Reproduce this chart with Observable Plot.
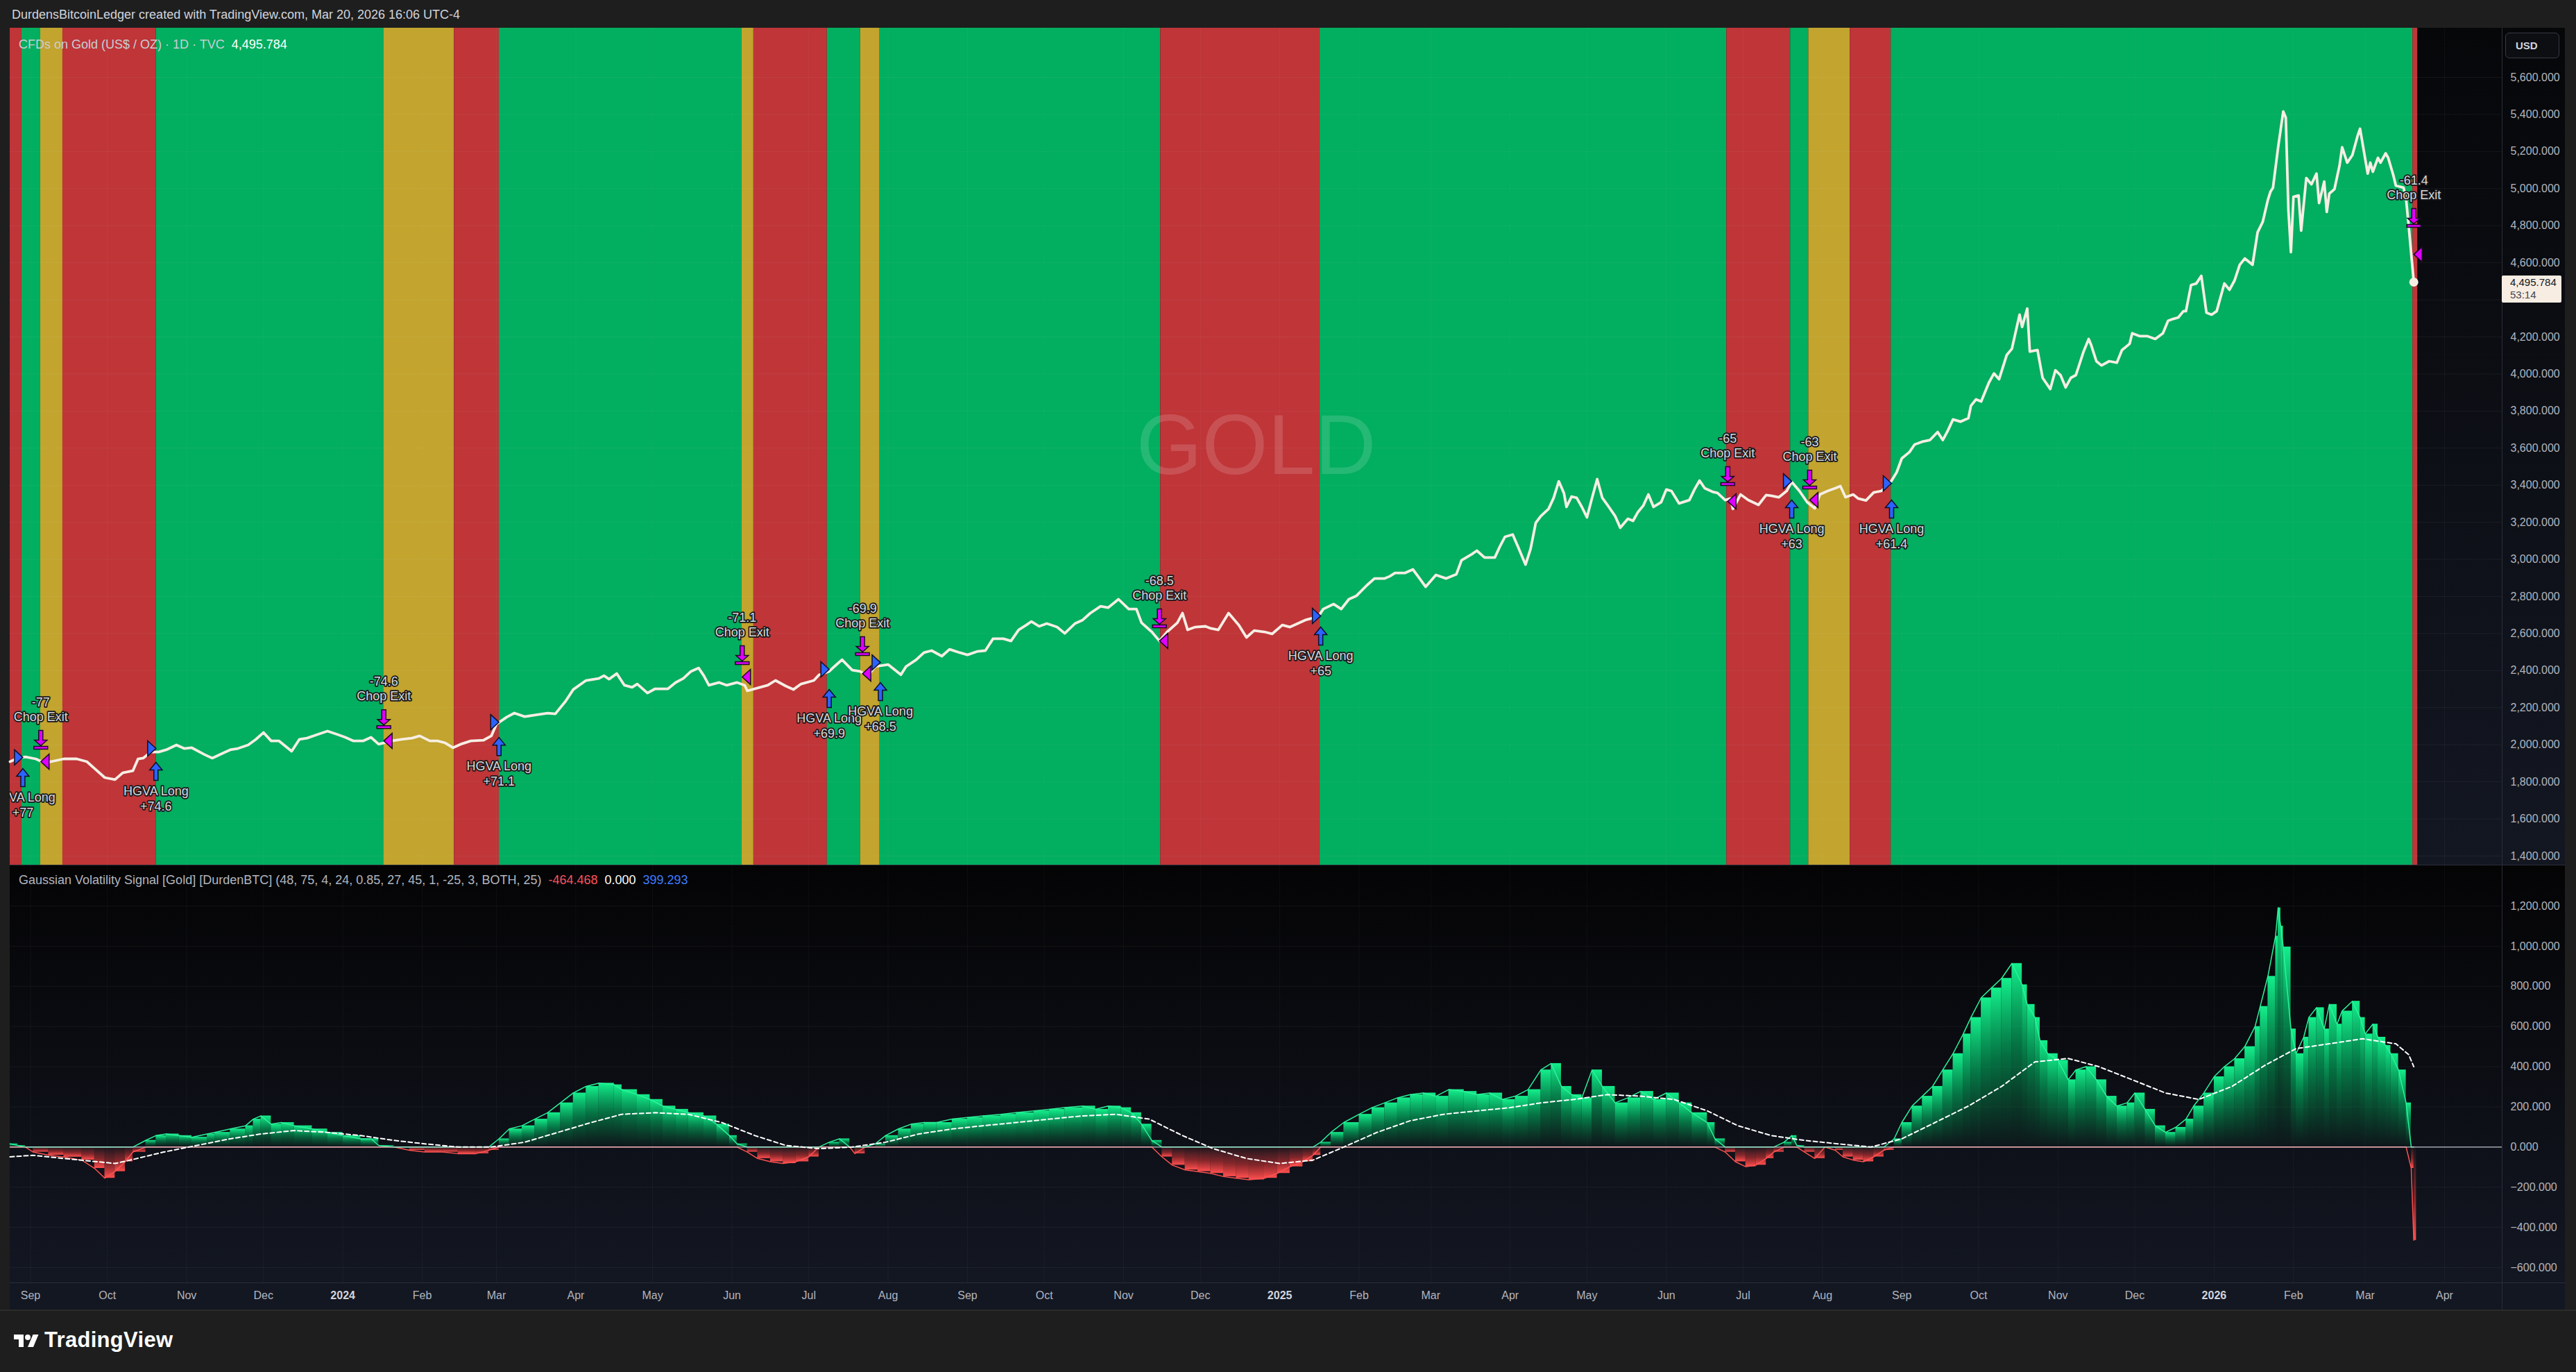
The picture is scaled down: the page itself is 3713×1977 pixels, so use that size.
<!DOCTYPE html>
<html><head><meta charset="utf-8">
<script src="https://cdn.jsdelivr.net/npm/d3@7"></script>
<script src="https://cdn.jsdelivr.net/npm/@observablehq/plot@0.6"></script>
<style>
html,body{margin:0;padding:0;background:#1e1e1e;}
#root{position:relative;width:3713px;height:1977px;background:#1e1e1e;overflow:hidden;font-family:"Liberation Sans",Arial,"Noto Sans",sans-serif;}
</style></head>
<body><div id="root"></div>
<script>
// ---------------- DATA ----------------
const priceSeries = [
["2023-08-24",1909],["2023-08-27",1928],["2023-08-30",1935],["2023-09-03",1924],["2023-09-06",1905],["2023-09-09",1909],["2023-09-14",1924],["2023-09-19",1924],["2023-09-23",1909],["2023-09-26",1872],["2023-09-30",1823],["2023-10-04",1812],["2023-10-07",1849],["2023-10-11",1860],["2023-10-13",1924],["2023-10-15",1928],["2023-10-18",1961],["2023-10-21",1961],["2023-10-24",1973],["2023-10-28",1999],["2023-10-31",1980],["2023-11-03",1984],["2023-11-08",1947],["2023-11-11",1928],["2023-11-15",1954],["2023-11-18",1973],["2023-11-21",1980],["2023-11-25",1999],["2023-11-28",2029],["2023-12-01",2066],["2023-12-04",2021],["2023-12-07",2021],["2023-12-12",1965],["2023-12-15",2029],["2023-12-18",2036],["2023-12-22",2055],["2023-12-26",2074],["2023-12-30",2055],
["2024-01-02",2040],["2024-01-05",2021],["2024-01-09",2021],["2024-01-12",2040],["2024-01-15",2003],["2024-01-20",2021],["2024-01-24",2029],["2024-01-28",2036],["2024-01-31",2048],["2024-02-04",2021],["2024-02-07",2021],["2024-02-10",2010],["2024-02-13",1984],["2024-02-16",2003],["2024-02-20",2021],["2024-02-25",2025],["2024-02-28",2048],["2024-03-01",2111],["2024-03-05",2149],["2024-03-08",2171],["2024-03-12",2152],["2024-03-16",2160],["2024-03-21",2171],["2024-03-24",2167],["2024-03-28",2235],["2024-03-31",2298],["2024-04-05",2347],["2024-04-10",2358],["2024-04-12",2373],["2024-04-14",2354],["2024-04-17",2384],["2024-04-20",2321],["2024-04-23",2310],["2024-04-25",2328],["2024-04-29",2279],["2024-05-02",2302],["2024-05-07",2302],["2024-05-10",2336],["2024-05-13",2358],["2024-05-16",2396],["2024-05-19",2414],["2024-05-21",2373],["2024-05-23",2321],["2024-05-27",2336],["2024-05-30",2321],["2024-06-03",2336],["2024-06-06",2321],["2024-06-07",2291],["2024-06-12",2310],["2024-06-15",2321],["2024-06-18",2347],["2024-06-22",2317],["2024-06-25",2298],["2024-06-28",2328],["2024-07-03",2347],["2024-07-05",2377],["2024-07-09",2396],["2024-07-11",2422],["2024-07-14",2459],["2024-07-18",2403],["2024-07-21",2396],["2024-07-24",2373],["2024-07-27",2422],["2024-08-01",2433],["2024-08-06",2378],["2024-08-08",2422],["2024-08-12",2459],["2024-08-15",2497],["2024-08-18",2508],["2024-08-22",2478],["2024-08-25",2515],["2024-08-29",2497],["2024-09-01",2485],["2024-09-05",2504],["2024-09-08",2508],["2024-09-11",2572],["2024-09-15",2572],["2024-09-18",2560],["2024-09-21",2620],["2024-09-24",2646],["2024-09-26",2665],["2024-09-29",2639],["2024-10-02",2654],["2024-10-06",2635],["2024-10-09",2601],["2024-10-13",2654],["2024-10-16",2673],["2024-10-19",2710],["2024-10-23",2747],["2024-10-26",2740],["2024-10-30",2785],["2024-11-03",2732],["2024-11-06",2732],["2024-11-08",2658],["2024-11-12",2609],["2024-11-15",2560],["2024-11-18",2609],["2024-11-22",2658],["2024-11-24",2710],["2024-11-26",2620],["2024-11-29",2635],["2024-12-03",2639],["2024-12-05",2628],["2024-12-08",2620],["2024-12-12",2710],["2024-12-16",2646],["2024-12-19",2579],["2024-12-22",2616],["2024-12-26",2609],["2024-12-29",2598],
["2025-01-02",2646],["2025-01-05",2635],["2025-01-08",2654],["2025-01-11",2673],["2025-01-16",2691],["2025-01-18",2732],["2025-01-22",2759],["2025-01-25",2732],["2025-01-28",2785],["2025-01-31",2804],["2025-02-04",2860],["2025-02-07",2897],["2025-02-11",2897],["2025-02-13",2909],["2025-02-15",2927],["2025-02-19",2927],["2025-02-22",2946],["2025-02-24",2909],["2025-02-27",2852],["2025-03-03",2916],["2025-03-07",2897],["2025-03-11",2920],["2025-03-13",2995],["2025-03-17",3028],["2025-03-19",3047],["2025-03-22",3010],["2025-03-26",3010],["2025-03-28",3070],["2025-03-30",3122],["2025-04-02",3134],["2025-04-04",3070],["2025-04-07",2972],["2025-04-09",3058],["2025-04-11",3197],["2025-04-13",3234],["2025-04-16",3272],["2025-04-18",3332],["2025-04-20",3421],["2025-04-22",3358],["2025-04-23",3283],["2025-04-25",3339],["2025-04-27",3332],["2025-04-29",3283],["2025-05-01",3227],["2025-05-03",3332],["2025-05-05",3433],["2025-05-07",3332],["2025-05-09",3294],["2025-05-12",3234],["2025-05-14",3171],["2025-05-17",3219],["2025-05-19",3208],["2025-05-21",3257],["2025-05-23",3290],["2025-05-25",3350],["2025-05-27",3283],["2025-05-30",3309],["2025-06-01",3377],["2025-06-03",3369],["2025-06-06",3302],["2025-06-10",3320],["2025-06-12",3377],["2025-06-14",3425],["2025-06-16",3384],["2025-06-19",3365],["2025-06-21",3358],["2025-06-24",3320],["2025-06-26",3328],["2025-06-27",3272],["2025-06-30",3350],["2025-07-03",3320],["2025-07-07",3294],["2025-07-10",3347],["2025-07-12",3343],["2025-07-15",3335],["2025-07-18",3369],["2025-07-20",3418],["2025-07-23",3369],["2025-07-26",3309],["2025-07-29",3275],["2025-07-31",3350],["2025-08-03",3369],["2025-08-06",3384],["2025-08-08",3395],["2025-08-10",3335],["2025-08-13",3350],["2025-08-15",3328],["2025-08-18",3318],["2025-08-21",3361],["2025-08-24",3369],["2025-08-27",3403],["2025-08-30",3470],["2025-09-01",3545],["2025-09-04",3579],["2025-09-06",3620],["2025-09-09",3635],["2025-09-12",3644],["2025-09-15",3687],["2025-09-17",3644],["2025-09-19",3695],["2025-09-21",3755],["2025-09-24",3743],["2025-09-27",3762],["2025-09-28",3829],["2025-09-30",3863],["2025-10-02",3852],["2025-10-05",3953],["2025-10-07",4003],["2025-10-09",3972],["2025-10-12",4103],["2025-10-14",4136],["2025-10-17",4320],["2025-10-18",4254],["2025-10-20",4353],["2025-10-21",4121],["2025-10-24",4129],["2025-10-26",3979],["2025-10-29",3919],["2025-10-31",4020],["2025-11-02",3994],["2025-11-04",3928],["2025-11-06",3979],["2025-11-08",3994],["2025-11-11",4121],["2025-11-13",4189],["2025-11-14",4155],["2025-11-16",4069],["2025-11-18",4046],["2025-11-21",4069],["2025-11-24",4061],["2025-11-26",4129],["2025-11-29",4163],["2025-11-30",4220],["2025-12-03",4204],["2025-12-06",4204],["2025-12-09",4189],["2025-12-12",4220],["2025-12-14",4287],["2025-12-16",4297],["2025-12-18",4305],["2025-12-20",4339],["2025-12-21",4339],["2025-12-23",4480],["2025-12-25",4488],["2025-12-27",4529],["2025-12-29",4331],["2025-12-31",4320],
["2026-01-02",4339],["2026-01-05",4488],["2026-01-07",4454],["2026-01-09",4505],["2026-01-11",4589],["2026-01-13",4623],["2026-01-16",4589],["2026-01-18",4765],["2026-01-20",4821],["2026-01-22",4939],["2026-01-23",4983],["2026-01-24",5005],["2026-01-26",5223],["2026-01-28",5416],["2026-01-29",5383],["2026-01-30",4889],["2026-01-31",4657],["2026-02-01",4956],["2026-02-03",4963],["2026-02-04",4773],["2026-02-06",5057],["2026-02-08",5023],["2026-02-10",5081],["2026-02-11",4922],["2026-02-13",5038],["2026-02-14",4874],["2026-02-15",4973],["2026-02-17",4997],["2026-02-19",5125],["2026-02-20",5223],["2026-02-22",5140],["2026-02-24",5181],["2026-02-26",5282],["2026-02-27",5323],["2026-03-02",5081],["2026-03-03",5140],["2026-03-04",5091],["2026-03-06",5166],["2026-03-07",5140],["2026-03-09",5190],["2026-03-10",5166],["2026-03-12",5072],["2026-03-13",5016],["2026-03-16",5005],["2026-03-17",4941],["2026-03-18",4800],["2026-03-20",4495.784]
];
const lastPrice = 4495.784;

const bandEdges = ["2023-08-24T00:00","2023-08-28T14:00","2023-09-04T22:00","2023-09-13T14:00","2023-10-20T02:00","2024-01-16T22:00","2024-02-13T12:00","2024-03-02T02:00","2024-06-04T22:00","2024-06-09T12:00","2024-07-08T05:00","2024-07-21T05:00","2024-07-28T19:00","2024-11-15T10:00","2025-01-16T17:00","2025-06-24T14:00","2025-07-19T12:00","2025-07-26T14:00","2025-08-11T19:00","2025-08-27T19:00","2026-03-19T14:00","2026-03-21T12:00"];
const bandStates = ["bear","bull","chop","bear","bull","chop","bear","bull","chop","bear","bull","chop","bull","bear","bull","bear","bull","chop","bear","bull","bear"];
const bandStateNames = ["bull","chop","bear"];
const bandColors = ["#02ae5f","#c2a42e","#bf3538"];

const signalDates = ["2023-08-29","2023-09-05","2023-10-20","2024-01-17","2024-03-02","2024-06-05","2024-07-09","2024-07-22","2024-07-29","2024-11-15","2025-01-17","2025-06-25","2025-07-20","2025-07-27","2025-08-28","2026-03-20"];
const signalKinds = ["long","exit","long","exit","long","exit","long","exit","long","exit","long","exit","long","exit","long","exit"];
const signalScores = [77,-77,74.6,-74.6,71.1,-71.1,69.9,-69.9,68.5,-68.5,65,-65,63,-63,61.4,-61.4];
const signalMarkerPrices = [1932,1909,1980,2021,2122,2366,2407,2384,2444,2560,2695,3313,3421,3320,3410,4645];
const signalBarExtremes = [1909,1935,1943,2047,2077,2392,2336,2441,2373,2590,2673,3358,3358,3339,3358,4750];

const oscSeries = [
["2023-08-24",16],["2023-08-27",8],["2023-08-30",0],["2023-09-02",-25],["2023-09-08",-40],["2023-09-14",-50],["2023-09-21",-65],["2023-09-26",-106],["2023-09-30",-155],["2023-10-04",-122],["2023-10-08",-73],["2023-10-11",-25],["2023-10-16",33],["2023-10-20",57],["2023-10-24",65],["2023-10-29",57],["2023-11-03",49],["2023-11-09",65],["2023-11-12",73],["2023-11-18",90],["2023-11-24",106],["2023-11-27",139],["2023-11-30",155],["2023-12-04",114],["2023-12-08",122],["2023-12-13",106],["2023-12-20",90],["2023-12-26",73],
["2024-01-01",57],["2024-01-08",41],["2024-01-12",41],["2024-01-15",8],["2024-01-21",0],["2024-01-27",-16],["2024-02-02",-25],["2024-02-09",-25],["2024-02-15",-33],["2024-02-22",-33],["2024-02-27",-16],["2024-03-02",41],["2024-03-06",90],["2024-03-11",106],["2024-03-16",139],["2024-03-21",171],["2024-03-26",220],["2024-03-31",269],["2024-04-05",302],["2024-04-10",318],["2024-04-16",310],["2024-04-19",286],["2024-04-25",261],["2024-04-30",237],["2024-05-05",204],["2024-05-10",188],["2024-05-15",171],["2024-05-21",155],["2024-05-26",114],["2024-05-31",57],["2024-06-03",16],["2024-06-07",-25],["2024-06-11",-57],["2024-06-16",-73],["2024-06-21",-82],["2024-06-26",-73],["2024-07-01",-49],["2024-07-05",0],["2024-07-09",24],["2024-07-13",41],["2024-07-17",0],["2024-07-19",-33],["2024-07-23",0],["2024-07-27",16],["2024-07-31",57],["2024-08-05",90],["2024-08-10",114],["2024-08-15",122],["2024-08-20",122],["2024-08-26",139],["2024-09-01",147],["2024-09-07",155],["2024-09-14",163],["2024-09-20",171],["2024-09-27",180],["2024-10-03",188],["2024-10-09",196],["2024-10-16",204],["2024-10-21",188],["2024-10-26",204],["2024-10-31",196],["2024-11-04",171],["2024-11-08",114],["2024-11-12",33],["2024-11-16",-49],["2024-11-20",-90],["2024-11-25",-114],["2024-11-30",-122],["2024-12-05",-131],["2024-12-10",-147],["2024-12-15",-155],["2024-12-20",-163],["2024-12-26",-155],["2024-12-31",-131],
["2025-01-05",-98],["2025-01-10",-73],["2025-01-14",-41],["2025-01-17",24],["2025-01-21",73],["2025-01-26",122],["2025-02-01",163],["2025-02-06",196],["2025-02-11",220],["2025-02-16",245],["2025-02-21",261],["2025-02-26",269],["2025-03-03",253],["2025-03-08",286],["2025-03-14",277],["2025-03-19",261],["2025-03-24",269],["2025-03-29",237],["2025-04-03",253],["2025-04-08",286],["2025-04-13",384],["2025-04-17",416],["2025-04-21",302],["2025-04-25",261],["2025-04-29",245],["2025-05-03",384],["2025-05-07",302],["2025-05-12",220],["2025-05-17",245],["2025-05-22",277],["2025-05-27",237],["2025-06-01",269],["2025-06-06",220],["2025-06-11",171],["2025-06-17",122],["2025-06-20",41],["2025-06-24",-25],["2025-06-28",-73],["2025-07-02",-98],["2025-07-06",-90],["2025-07-10",-57],["2025-07-13",-25],["2025-07-17",24],["2025-07-20",57],["2025-07-22",8],["2025-07-25",-25],["2025-07-29",-57],["2025-08-02",0],["2025-08-06",-16],["2025-08-09",-49],["2025-08-13",-65],["2025-08-17",-73],["2025-08-21",-49],["2025-08-25",-16],["2025-08-29",41],["2025-09-01",122],["2025-09-05",204],["2025-09-09",253],["2025-09-13",302],["2025-09-17",384],["2025-09-21",465],["2025-09-25",563],["2025-09-28",645],["2025-10-02",743],["2025-10-06",792],["2025-10-10",840],["2025-10-14",914],["2025-10-18",808],["2025-10-20",710],["2025-10-23",645],["2025-10-25",530],["2025-10-28",465],["2025-11-01",432],["2025-11-05",335],["2025-11-08",384],["2025-11-12",400],["2025-11-16",335],["2025-11-20",253],["2025-11-24",204],["2025-11-28",220],["2025-12-01",269],["2025-12-05",188],["2025-12-09",106],["2025-12-13",73],["2025-12-17",98],["2025-12-21",139],["2025-12-24",204],["2025-12-28",269],
["2026-01-01",350],["2026-01-05",400],["2026-01-09",440],["2026-01-13",500],["2026-01-17",600],["2026-01-19",700],["2026-01-22",850],["2026-01-25",1050],["2026-01-26",1191],["2026-01-27",1100],["2026-01-28",996],["2026-01-31",588],["2026-02-02",465],["2026-02-05",547],["2026-02-07",645],["2026-02-10",694],["2026-02-13",588],["2026-02-15",710],["2026-02-18",612],["2026-02-20",677],["2026-02-24",726],["2026-02-27",645],["2026-03-01",563],["2026-03-04",612],["2026-03-06",547],["2026-03-09",506],["2026-03-11",465],["2026-03-14",384],["2026-03-17",220],["2026-03-19",-106],["2026-03-20",-464.468]
];

const maSeries = [
["2023-08-24",-49],["2023-09-02",-41],["2023-09-14",-57],["2023-09-27",-73],["2023-10-04",-82],["2023-10-10",-65],["2023-10-23",-25],["2023-11-05",8],["2023-11-18",41],["2023-11-30",65],["2023-12-13",82],["2023-12-26",73],["2024-01-08",57],["2024-01-21",33],["2024-02-02",16],["2024-02-15",0],["2024-02-28",0],["2024-03-12",24],["2024-03-25",73],["2024-04-07",122],["2024-04-19",163],["2024-05-02",171],["2024-05-15",163],["2024-05-28",122],["2024-06-10",57],["2024-06-22",8],["2024-07-05",-8],["2024-07-18",0],["2024-07-31",24],["2024-08-13",65],["2024-08-26",90],["2024-09-07",106],["2024-09-20",122],["2024-10-03",139],["2024-10-16",155],["2024-10-29",163],["2024-11-11",139],["2024-11-24",57],["2024-12-06",-8],["2024-12-19",-57],["2025-01-01",-82],["2025-01-14",-65],["2025-01-26",0],["2025-02-08",73],["2025-02-21",131],["2025-03-06",163],["2025-03-19",180],["2025-04-01",196],["2025-04-13",220],["2025-04-26",237],["2025-05-09",261],["2025-05-22",253],["2025-06-04",237],["2025-06-17",180],["2025-06-29",106],["2025-07-12",57],["2025-07-25",33],["2025-08-07",16],["2025-08-20",0],["2025-09-01",41],["2025-09-14",122],["2025-09-27",204],["2025-10-10",302],["2025-10-23",424],["2025-11-05",441],["2025-11-17",400],["2025-11-30",335],["2025-12-13",269],["2025-12-26",237],["2026-01-08",302],["2026-01-21",408],["2026-02-02",490],["2026-02-15",514],["2026-02-28",539],["2026-03-13",514],["2026-03-18",460],["2026-03-20",400]
];

const priceGridTicks = [1400,1600,1800,2000,2200,2400,2600,2800,3000,3200,3400,3600,3800,4000,4200,4400,4600,4800,5000,5200,5400,5600];
const priceLabelTicks = [1400,1600,1800,2000,2200,2400,2600,2800,3000,3200,3400,3600,3800,4000,4200,4600,4800,5000,5200,5400,5600];
const oscTicks = [-600,-400,-200,0,200,400,600,800,1000,1200];
const xTickDates = ["2023-09-01","2023-10-01","2023-11-01","2023-12-01","2024-01-01","2024-02-01","2024-03-01","2024-04-01","2024-05-01","2024-06-01","2024-07-01","2024-08-01","2024-09-01","2024-10-01","2024-11-01","2024-12-01","2025-01-01","2025-02-01","2025-03-01","2025-04-01","2025-05-01","2025-06-01","2025-07-01","2025-08-01","2025-09-01","2025-10-01","2025-11-01","2025-12-01","2026-01-01","2026-02-01","2026-03-01","2026-04-01"];
const xTickLabels = ["Sep","Oct","Nov","Dec","2024","Feb","Mar","Apr","May","Jun","Jul","Aug","Sep","Oct","Nov","Dec","2025","Feb","Mar","Apr","May","Jun","Jul","Aug","Sep","Oct","Nov","Dec","2026","Feb","Mar","Apr"];
const xDomainDates = ["2023-08-24T00:00","2026-04-23T12:00"];

// ---------------- BUILD ----------------
const FONT = '"Liberation Sans", Arial, "Noto Sans", sans-serif';
const D = s => new Date(s.length === 10 ? s + "T00:00:00Z" : s + ":00Z");
const xDomain = xDomainDates.map(D);
const price = priceSeries.map(([d, v]) => ({date: D(d), v}));
const osc = oscSeries.map(([d, v]) => ({date: D(d), v}));
const ma = maSeries.map(([d, v]) => ({date: D(d), v}));
const oscCols = osc.map((o, i) => ({x1: o.date, x2: i < osc.length - 1 ? osc[i + 1].date : new Date(+o.date + 864e5), v: o.v}));
const bands = bandStates.map((s, i) => ({start: D(bandEdges[i]), end: D(bandEdges[i + 1]), state: s}));
const signals = signalDates.map((d, i) => ({date: D(d), kind: signalKinds[i], score: signalScores[i], marker: signalMarkerPrices[i], extreme: signalBarExtremes[i]}));
const longs = signals.filter(s => s.kind === "long");
const exits = signals.filter(s => s.kind === "exit");
const tickD = xTickDates.map(D);
const tickLabel = new Map(tickD.map((d, i) => [+d, xTickLabels[i]]));
const yearTicks = tickD.filter(d => /^\d{4}$/.test(tickLabel.get(+d)));
const monthTicks = tickD.filter(d => !/^\d{4}$/.test(tickLabel.get(+d)));
const fmt3 = d3.format(",.3f");

const triRight = {draw(c){ c.moveTo(-6,-11); c.lineTo(6,0); c.lineTo(-6,11); c.closePath(); }};
const triLeft  = {draw(c){ c.moveTo(6,-11); c.lineTo(-6,0); c.lineTo(6,11); c.closePath(); }};
const arrowUp  = {draw(c){ c.moveTo(0,-13); c.lineTo(9,-2); c.lineTo(3,-2); c.lineTo(3,13); c.lineTo(-3,13); c.lineTo(-3,-2); c.lineTo(-9,-2); c.closePath(); }};
const arrowDownBar = {draw(c){
  c.moveTo(-3,-14); c.lineTo(3,-14); c.lineTo(3,0); c.lineTo(9,0); c.lineTo(0,8); c.lineTo(-9,0); c.lineTo(-3,0); c.closePath();
  c.moveTo(-10,9); c.lineTo(10,9); c.lineTo(10,13); c.lineTo(-10,13); c.closePath(); }};

const lbl = {fontSize: 18, fill: "#d9d9d9", stroke: "#17181d", strokeWidth: 3.5, paintOrder: "stroke", fontFamily: FONT, clip: true};
const scoreText = s => s > 0 ? "+" + s : "-" + Math.abs(s);

const root = document.getElementById("root");
function addDiv(css, html) { const d = document.createElement("div"); d.style.cssText = "position:absolute;" + css; if (html != null) d.innerHTML = html; root.appendChild(d); return d; }

// pane backgrounds
addDiv("left:14px;top:40px;width:3683px;height:1206px;background:linear-gradient(#060709,#131722);");
addDiv("left:14px;top:1247px;width:3683px;height:602px;background:linear-gradient(#040405,#131722);");
addDiv("left:14px;top:1849px;width:3683px;height:38px;background:#131722;");

const TOP = 40, TOPH = 1206, BOT = 1247, BOTH = 640;

const topPlot = Plot.plot({
  width: 3697, height: TOPH,
  marginLeft: 14, marginRight: 91, marginTop: 0, marginBottom: 0,
  x: {type: "utc", domain: xDomain, axis: null},
  y: {domain: [1351.3, 5865.8], axis: null},
  color: {type: "ordinal", domain: bandStateNames, range: bandColors},
  style: {background: "transparent", overflow: "visible", fontFamily: FONT},
  marks: [
    Plot.rect(bands, {x1: "start", x2: "end", fill: "state"}),
    Plot.gridY(priceGridTicks, {stroke: "#ffffff", strokeOpacity: 0.055}),
    Plot.gridX(tickD, {stroke: "#ffffff", strokeOpacity: 0.045}),
    Plot.text(["GOLD"], {text: d => d, frameAnchor: "middle", fontSize: 122, fill: "#ffffff", fillOpacity: 0.14, fontFamily: FONT}),
    Plot.line(price, {x: "date", y: "v", stroke: "#f6eee4", strokeWidth: 3.8, strokeLinejoin: "round"}),
    Plot.dot(price.slice(-1), {x: "date", y: "v", r: 6.5, fill: "#f6eee4"}),
    Plot.dot(longs, {x: "date", y: "marker", symbol: triRight, r: 8, fill: "#2d62ff", stroke: "#0d0f24", strokeWidth: 1.5, dx: -6}),
    Plot.dot(exits, {x: "date", y: "marker", symbol: triLeft, r: 8, fill: "#de00ff", stroke: "#1c0a22", strokeWidth: 1.5, dx: 6}),
    Plot.dot(longs, {x: "date", y: "extreme", symbol: arrowUp, r: 8, fill: "#2d62ff", stroke: "#0d0f24", strokeWidth: 1.5, dy: 23}),
    Plot.dot(exits, {x: "date", y: "extreme", symbol: arrowDownBar, r: 8, fill: "#de00ff", stroke: "#1c0a22", strokeWidth: 1.5, dy: -24}),
    Plot.text(longs, {x: "date", y: "extreme", text: () => "HGVA Long", dy: 52, ...lbl}),
    Plot.text(longs, {x: "date", y: "extreme", text: d => scoreText(d.score), dy: 74, ...lbl}),
    Plot.text(exits, {x: "date", y: "extreme", text: () => "Chop Exit", dy: -57, ...lbl}),
    Plot.text(exits, {x: "date", y: "extreme", text: d => scoreText(d.score), dy: -78, ...lbl}),
    Plot.axisY(priceLabelTicks, {anchor: "right", tickSize: 0, tickPadding: 12, tickFormat: fmt3, fontSize: 16, color: "#b2b5be", label: null})
  ]
});
const topWrap = addDiv(`left:0;top:${TOP}px;width:3697px;height:${TOPH}px;`);
topWrap.appendChild(topPlot);

const botPlot = Plot.plot({
  width: 3697, height: BOTH,
  marginLeft: 14, marginRight: 91, marginTop: 0, marginBottom: 38,
  x: {type: "utc", domain: xDomain, axis: null},
  y: {domain: [-679.5, 1400.4], axis: null},
  style: {background: "transparent", overflow: "visible", fontFamily: FONT},
  marks: [
    Plot.gridY(oscTicks, {stroke: "#ffffff", strokeOpacity: 0.05}),
    Plot.gridX(tickD, {stroke: "#ffffff", strokeOpacity: 0.04}),
    Plot.rect(oscCols.filter(d => d.v >= 0), {x1: "x1", x2: "x2", y1: () => 0, y2: "v", fill: "url(#oscPos)", ariaLabel: "osc-cols"}),
    Plot.rect(oscCols.filter(d => d.v < 0), {x1: "x1", x2: "x2", y1: () => 0, y2: "v", fill: "url(#oscNeg)", ariaLabel: "osc-cols"}),
    Plot.area(osc, {x1: "date", y1: () => 0, y2: "v", fill: "none", ariaLabel: "osc-area"}),
    Plot.line(osc, {x: "date", y: d => Math.min(d.v, 0), stroke: "#ff5252", strokeWidth: 1.5}),
    Plot.line(osc, {x: "date", y: d => Math.max(d.v, 0), stroke: "#2cf29a", strokeWidth: 1.5}),
    Plot.ruleY([0], {stroke: "#d1d4dc", strokeOpacity: 0.9, strokeWidth: 1.2}),
    Plot.line(ma, {x: "date", y: "v", stroke: "#ffffff", strokeWidth: 2, strokeDasharray: "6,4"}),
    Plot.axisY(oscTicks, {anchor: "right", tickSize: 0, tickPadding: 12, tickFormat: fmt3, fontSize: 16, color: "#b2b5be", label: null}),
    Plot.axisX(monthTicks, {anchor: "bottom", tickSize: 0, tickPadding: 11, tickFormat: d => tickLabel.get(+d), fontSize: 16, color: "#b2b5be", label: null}),
    Plot.axisX(yearTicks, {anchor: "bottom", tickSize: 0, tickPadding: 11, tickFormat: d => tickLabel.get(+d), fontSize: 16, fontWeight: "bold", color: "#d1d4dc", label: null})
  ]
});
(function () {
  const ns = "http://www.w3.org/2000/svg";
  const svg = botPlot;
  const defs = document.createElementNS(ns, "defs");
  function grad(id, stops) {
    const g = document.createElementNS(ns, "linearGradient");
    g.setAttribute("id", id); g.setAttribute("x1", "0"); g.setAttribute("y1", "0"); g.setAttribute("x2", "0"); g.setAttribute("y2", "1");
    for (const [o, c, a] of stops) { const s = document.createElementNS(ns, "stop"); s.setAttribute("offset", o); s.setAttribute("stop-color", c); s.setAttribute("stop-opacity", a); g.appendChild(s); }
    defs.appendChild(g);
  }
  grad("oscPos", [[0, "#14ef8c", 1], [0.45, "#00c46a", 0.55], [1, "#00a050", 0.04]]);
  grad("oscNeg", [[0, "#ff4d4d", 0.04], [0.55, "#f23a3a", 0.5], [1, "#ff5050", 1]]);
  const areaG = svg.querySelector('g[aria-label="osc-area"]');
  if (areaG) {
    const p = areaG.querySelector("path");
    const cp = document.createElementNS(ns, "clipPath");
    cp.setAttribute("id", "oscClip");
    cp.appendChild(p.cloneNode(true));
    defs.appendChild(cp);
    svg.querySelectorAll('g[aria-label="osc-cols"]').forEach(g => g.setAttribute("clip-path", "url(#oscClip)"));
    areaG.remove();
  }
  svg.insertBefore(defs, svg.firstChild);
})();
const botWrap = addDiv(`left:0;top:${BOT}px;width:3697px;height:${BOTH}px;`);
botWrap.appendChild(botPlot);

// separators
addDiv("left:14px;top:1246px;width:3683px;height:1px;background:#2a2e39;");
addDiv("left:14px;top:1848px;width:3683px;height:1px;background:#2a2e39;");
addDiv("left:3606px;top:40px;width:1px;height:1847px;background:#2a2e39;");
addDiv("left:0;top:1887px;width:3713px;height:2px;background:#2b2b2b;");

// header / legends
addDiv(`left:17px;top:10px;font-size:18px;line-height:22px;color:#d1d4dc;white-space:nowrap;font-family:${FONT};`,
  "DurdensBitcoinLedger created with TradingView.com, Mar 20, 2026 16:06 UTC-4");
addDiv(`left:27px;top:53px;font-size:18px;line-height:22px;color:#c9cdd4;white-space:nowrap;font-family:${FONT};`,
  'CFDs on Gold (US$ / OZ) · 1D · TVC&nbsp;&nbsp;<span style="color:#ffffff">4,495.784</span>');
addDiv(`left:27px;top:1257px;font-size:18px;line-height:22px;color:#b2b5be;white-space:nowrap;font-family:${FONT};`,
  'Gaussian Volatility Signal [Gold] [DurdenBTC] (48, 75, 4, 24, 0.85, 27, 45, 1, -25, 3, BOTH, 25)&nbsp;&nbsp;<span style="color:#f7525f">-464.468</span>&nbsp;&nbsp;<span style="color:#ffffff">0.000</span>&nbsp;&nbsp;<span style="color:#3b7bff">399.293</span>');

// USD button
addDiv(`left:3611px;top:47px;width:78px;height:37px;box-sizing:border-box;border:1px solid #363a45;border-radius:6px;background:#0d0e12;color:#d1d4dc;font-weight:bold;font-size:15px;line-height:35px;padding-left:14px;font-family:${FONT};`, "USD");

// last price tag
const yLast = topPlot.scale("y").apply(lastPrice) + TOP;
addDiv(`left:3606px;top:${Math.round(yLast - 9)}px;width:86px;height:39px;background:#f7ede2;border-radius:2px;color:#131722;font-size:15px;line-height:18px;padding:1px 0 0 12px;box-sizing:border-box;font-family:${FONT};`,
  d3.format(",.3f")(lastPrice) + '<br><span style="color:#434651">53:14</span>');

// footer logo
addDiv("left:18px;top:1919px;", '<svg width="40" height="28" viewBox="0 0 36 28"><path d="M14 22H7V11H0V4h14v18zM28 22h-8l7.5-18h8L28 22z" fill="#ffffff"/><circle cx="20" cy="8" r="4" fill="#ffffff"/></svg>');
addDiv(`left:64px;top:1913px;color:#ffffff;font-size:31px;font-weight:bold;line-height:36px;letter-spacing:0.3px;font-family:${FONT};`, "TradingView");
</script></body></html>
